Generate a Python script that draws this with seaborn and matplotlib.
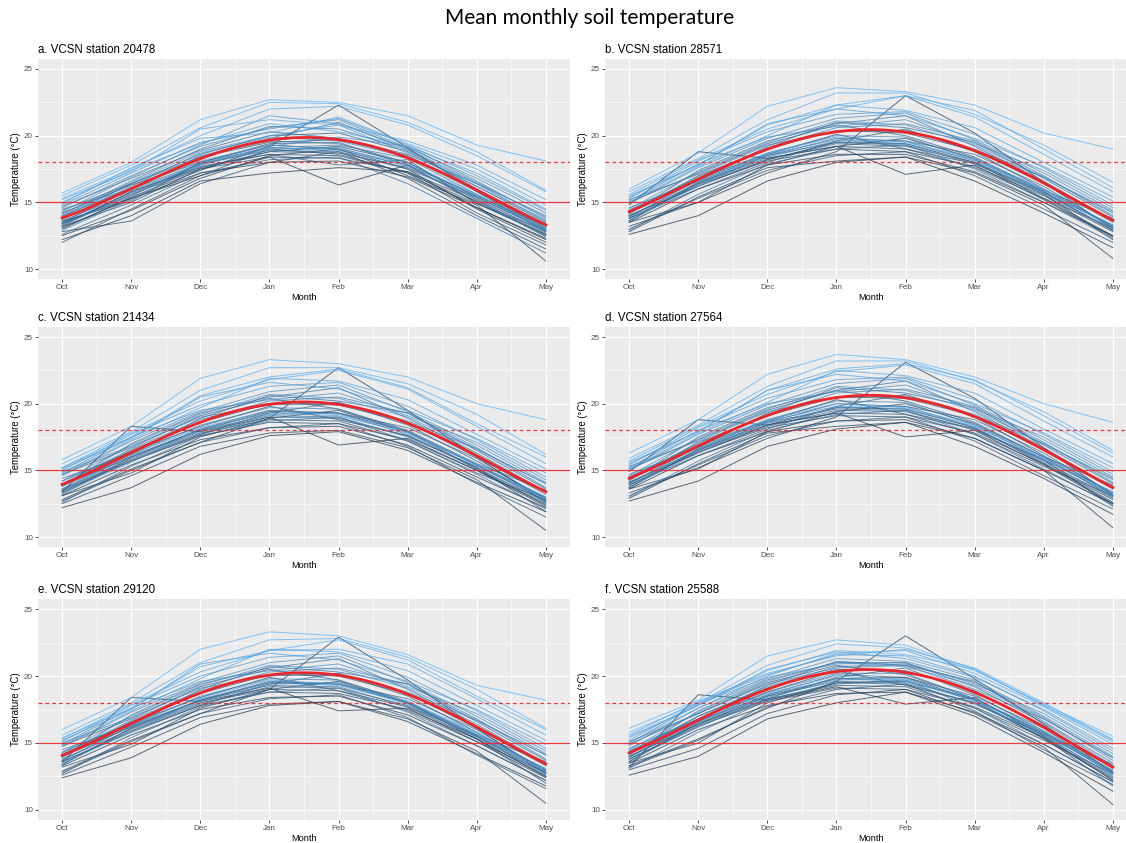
import numpy as np
import pandas as pd
import matplotlib
matplotlib.use("Agg")
import matplotlib.pyplot as plt
from matplotlib.colors import LinearSegmentedColormap
import seaborn as sns

months = ["Oct", "Nov", "Dec", "Jan", "Feb", "Mar", "Apr", "May"]
panel_titles = ["a. VCSN station 20478", "b. VCSN station 28571",
                "c. VCSN station 21434", "d. VCSN station 27564",
                "e. VCSN station 29120", "f. VCSN station 25588"]

# one row per year (oldest first), monthly mean soil temperature Oct..May
station_a = [
    [12.2, 14.0, 16.6, 17.2, 17.6, 17.3, 14.6, 12.2],
    [13.5, 15.3, 17.0, 18.4, 16.3, 17.8, 15.0, 12.5],
    [13.1, 15.3, 17.2, 18.0, 18.1, 16.9, 14.6, 12.3],
    [12.5, 14.4, 16.8, 18.5, 19.0, 17.0, 14.8, 10.6],
    [13.0, 15.4, 17.4, 19.2, 22.3, 19.1, 15.8, 12.8],
    [14.2, 16.3, 18.0, 19.3, 19.0, 17.5, 14.5, 12.0],
    [12.8, 13.6, 16.4, 18.0, 18.8, 16.8, 14.0, 11.5],
    [13.4, 15.6, 17.5, 18.4, 18.3, 17.3, 15.1, 12.6],
    [13.2, 15.0, 17.5, 18.8, 19.2, 18.0, 15.4, 12.9],
    [12.0, 14.5, 17.0, 19.0, 18.6, 17.2, 14.2, 11.8],
    [14.0, 16.0, 18.4, 19.5, 19.7, 18.5, 15.9, 13.0],
    [13.2, 15.8, 17.7, 18.6, 18.5, 17.2, 14.9, 12.9],
    [13.3, 15.8, 17.6, 18.6, 17.8, 18.2, 14.9, 12.6],
    [14.4, 16.4, 18.6, 20.0, 20.2, 18.8, 16.2, 13.5],
    [13.6, 15.1, 18.0, 19.4, 19.5, 17.8, 15.5, 13.2],
    [13.6, 15.7, 17.6, 18.8, 18.7, 17.6, 15.3, 12.7],
    [12.6, 14.8, 17.2, 18.2, 18.4, 16.4, 13.8, 11.2],
    [14.7, 16.8, 18.9, 20.3, 19.8, 18.6, 16.4, 13.6],
    [13.9, 16.4, 18.4, 19.8, 21.0, 19.0, 16.0, 13.4],
    [13.5, 16.0, 17.9, 18.9, 18.8, 17.5, 15.4, 13.0],
    [13.4, 15.5, 17.9, 19.1, 19.3, 18.3, 15.6, 12.9],
    [14.1, 16.6, 19.0, 20.7, 20.5, 18.9, 16.4, 14.0],
    [14.5, 16.0, 18.5, 19.6, 19.4, 18.0, 15.2, 12.4],
    [13.8, 15.9, 17.8, 19.0, 19.1, 17.7, 15.2, 12.8],
    [12.9, 15.2, 17.8, 19.2, 19.9, 19.2, 16.6, 13.8],
    [14.6, 17.0, 19.2, 20.6, 21.2, 19.1, 16.8, 14.2],
    [13.7, 16.2, 18.7, 19.9, 19.6, 18.4, 15.8, 13.1],
    [13.3, 15.5, 18.0, 19.1, 18.9, 17.8, 15.5, 13.1],
    [14.3, 16.9, 19.3, 21.5, 20.9, 19.0, 16.5, 13.9],
    [14.8, 17.2, 19.5, 20.5, 21.3, 19.3, 17.0, 14.4],
    [14.0, 16.5, 18.8, 20.0, 20.8, 18.7, 16.2, 13.7],
    [14.0, 16.1, 18.1, 19.3, 19.0, 17.9, 15.6, 12.9],
    [15.0, 17.4, 19.4, 20.9, 20.3, 19.2, 17.2, 14.5],
    [14.9, 17.6, 19.8, 20.2, 21.4, 19.4, 17.5, 14.8],
    [15.2, 17.3, 20.5, 21.2, 20.8, 19.6, 17.8, 15.2],
    [15.3, 17.5, 20.0, 22.0, 22.2, 20.8, 18.5, 15.8],
    [15.5, 17.8, 20.6, 22.5, 22.4, 21.0, 18.8, 15.9],
    [15.7, 18.0, 21.2, 22.7, 22.5, 21.5, 19.3, 18.1],
]

station_b = [
    [12.6, 14.0, 16.6, 18.0, 18.4, 16.6, 14.2, 11.6],
    [14.8, 18.8, 18.3, 19.2, 17.1, 17.8, 15.2, 12.4],
    [13.5, 16.0, 17.8, 18.6, 18.6, 17.3, 15.0, 12.5],
    [13.2, 15.0, 17.2, 18.8, 23.0, 20.2, 16.5, 13.0],
    [12.8, 15.4, 17.6, 18.1, 18.4, 17.2, 14.8, 10.8],
    [14.0, 16.2, 18.2, 19.5, 19.4, 18.0, 15.3, 12.5],
    [13.5, 15.0, 17.8, 19.2, 19.8, 18.3, 15.8, 12.9],
    [13.8, 16.3, 18.1, 19.0, 18.8, 17.7, 15.5, 12.8],
    [14.4, 16.8, 18.6, 20.1, 19.0, 17.9, 15.6, 12.2],
    [13.0, 15.3, 17.4, 18.5, 18.8, 17.0, 14.5, 12.0],
    [14.2, 17.0, 19.0, 20.4, 20.2, 18.9, 16.4, 13.5],
    [13.6, 16.5, 18.3, 19.2, 19.0, 17.6, 15.3, 13.1],
    [13.8, 16.0, 18.0, 19.6, 20.5, 18.8, 16.0, 13.2],
    [15.0, 17.2, 19.4, 20.8, 20.0, 18.4, 15.9, 13.8],
    [13.6, 16.4, 18.5, 19.8, 19.6, 18.6, 16.2, 13.1],
    [14.0, 16.4, 18.2, 19.4, 19.2, 18.0, 15.7, 12.9],
    [14.6, 16.6, 19.2, 21.0, 20.6, 19.5, 16.8, 13.9],
    [12.9, 15.6, 17.9, 19.0, 19.3, 17.5, 15.0, 12.3],
    [14.1, 17.4, 19.6, 20.9, 21.5, 19.2, 16.6, 13.6],
    [13.9, 16.7, 18.5, 19.5, 19.3, 17.9, 15.8, 13.2],
    [15.2, 17.1, 19.3, 20.3, 20.4, 19.0, 16.9, 14.2],
    [14.3, 16.9, 19.1, 20.6, 20.9, 19.6, 17.0, 14.0],
    [13.9, 16.5, 18.7, 20.0, 19.9, 18.2, 15.7, 13.3],
    [14.2, 16.6, 18.4, 19.6, 19.6, 18.1, 15.6, 13.0],
    [14.9, 17.6, 19.8, 21.3, 21.7, 19.7, 17.2, 14.4],
    [15.1, 17.9, 19.9, 20.7, 21.2, 19.4, 17.4, 14.6],
    [14.5, 17.3, 19.5, 21.1, 20.8, 19.3, 16.9, 14.3],
    [13.7, 16.2, 18.6, 19.7, 19.4, 18.2, 15.9, 13.3],
    [15.3, 18.1, 20.3, 21.6, 21.8, 20.1, 17.6, 14.8],
    [15.4, 17.8, 20.9, 22.0, 21.5, 19.8, 17.7, 15.1],
    [14.4, 16.8, 18.7, 19.9, 19.5, 18.3, 16.0, 13.1],
    [15.0, 17.7, 20.0, 22.3, 21.9, 20.6, 18.0, 15.4],
    [15.6, 18.2, 20.5, 22.0, 23.0, 21.4, 18.6, 15.8],
    [15.5, 17.8, 20.8, 22.3, 23.0, 21.9, 19.0, 16.1],
    [15.8, 18.3, 21.2, 23.2, 23.2, 21.6, 19.3, 16.5],
    [16.0, 18.7, 22.2, 23.6, 23.3, 22.3, 20.2, 19.0],
]

station_c = [
    [12.2, 13.7, 16.2, 17.6, 17.9, 16.5, 14.1, 11.9],
    [13.4, 18.3, 17.9, 19.0, 16.9, 17.4, 15.0, 12.3],
    [13.1, 15.4, 17.3, 18.2, 18.3, 16.9, 14.5, 12.2],
    [12.8, 15.1, 17.1, 18.9, 22.7, 19.5, 16.0, 12.6],
    [12.5, 14.6, 16.8, 17.8, 18.0, 16.7, 14.3, 10.5],
    [13.9, 16.0, 18.0, 19.4, 19.3, 17.9, 15.1, 12.4],
    [13.1, 14.8, 17.5, 18.9, 19.5, 17.9, 15.4, 12.7],
    [13.4, 15.7, 17.6, 18.6, 18.5, 17.3, 15.0, 12.5],
    [14.2, 16.4, 18.3, 19.8, 18.8, 17.6, 15.2, 11.9],
    [12.7, 15.0, 17.1, 18.2, 18.5, 16.8, 14.0, 11.5],
    [13.9, 16.5, 18.6, 20.0, 19.9, 18.6, 16.0, 13.2],
    [13.2, 15.9, 17.8, 18.8, 18.7, 17.2, 14.8, 12.8],
    [13.5, 15.7, 17.7, 19.3, 20.1, 18.4, 15.7, 12.9],
    [14.7, 16.7, 19.1, 20.4, 19.6, 18.0, 15.5, 13.5],
    [13.3, 16.0, 18.1, 19.5, 19.3, 18.2, 15.9, 12.8],
    [13.6, 15.8, 17.7, 19.0, 18.9, 17.6, 15.2, 12.6],
    [14.4, 16.2, 18.9, 20.6, 20.2, 19.3, 16.5, 13.6],
    [12.6, 15.3, 17.6, 18.7, 19.0, 17.2, 14.7, 12.1],
    [13.8, 17.0, 19.3, 20.5, 21.2, 18.9, 16.3, 13.4],
    [13.5, 16.1, 18.0, 19.1, 19.0, 17.5, 15.3, 12.9],
    [14.9, 16.8, 19.0, 19.9, 20.1, 18.7, 16.6, 14.0],
    [14.0, 16.6, 18.8, 20.2, 20.5, 19.3, 16.7, 13.7],
    [13.6, 16.2, 18.4, 19.7, 19.6, 17.9, 15.4, 13.0],
    [13.8, 16.0, 17.9, 19.2, 19.3, 17.7, 15.1, 12.7],
    [14.6, 17.2, 19.4, 20.9, 21.4, 19.4, 16.9, 14.1],
    [14.8, 17.5, 19.5, 20.3, 20.8, 19.1, 17.1, 14.3],
    [14.2, 16.9, 19.2, 20.7, 20.4, 19.0, 16.6, 14.0],
    [13.3, 15.6, 18.1, 19.3, 19.1, 17.8, 15.4, 13.0],
    [15.0, 17.7, 19.9, 21.3, 21.6, 19.8, 17.3, 14.5],
    [15.1, 17.4, 20.5, 21.6, 21.1, 19.5, 17.4, 14.8],
    [14.0, 16.2, 18.2, 19.5, 19.2, 17.9, 15.5, 12.8],
    [14.7, 17.3, 19.7, 21.9, 21.7, 20.3, 17.7, 15.1],
    [15.2, 17.8, 20.2, 21.8, 22.5, 21.1, 18.3, 15.5],
    [15.2, 17.5, 20.6, 22.0, 22.6, 21.2, 18.5, 16.0],
    [15.5, 17.9, 21.0, 22.7, 22.7, 21.5, 19.2, 16.2],
    [15.8, 18.3, 21.9, 23.3, 23.0, 22.0, 20.0, 18.8],
]

station_d = [
    [12.7, 14.2, 16.8, 18.1, 18.6, 16.8, 14.4, 11.7],
    [14.9, 18.8, 18.4, 19.3, 17.5, 18.0, 15.4, 12.5],
    [13.6, 16.1, 17.9, 18.7, 18.8, 17.4, 15.0, 12.5],
    [13.3, 15.2, 17.4, 19.0, 23.1, 20.4, 16.7, 13.1],
    [12.9, 15.5, 17.8, 18.3, 18.6, 17.4, 15.0, 10.7],
    [14.1, 16.3, 18.4, 19.7, 19.6, 18.2, 15.5, 12.6],
    [13.6, 15.1, 17.9, 19.4, 20.0, 18.5, 16.0, 13.0],
    [13.9, 16.4, 18.2, 19.1, 19.0, 17.8, 15.5, 12.8],
    [14.5, 16.9, 18.7, 20.3, 19.2, 18.1, 15.8, 12.3],
    [13.1, 15.4, 17.6, 18.7, 19.0, 17.2, 14.6, 12.1],
    [14.3, 17.1, 19.1, 20.5, 20.4, 19.1, 16.5, 13.6],
    [13.7, 16.6, 18.4, 19.3, 19.2, 17.7, 15.3, 13.1],
    [13.9, 16.1, 18.1, 19.8, 20.7, 19.0, 16.1, 13.3],
    [15.1, 17.3, 19.5, 21.0, 20.2, 18.6, 16.0, 13.9],
    [13.7, 16.5, 18.6, 20.0, 19.8, 18.8, 16.3, 13.2],
    [14.1, 16.5, 18.3, 19.5, 19.4, 18.1, 15.7, 12.9],
    [14.7, 16.7, 19.3, 21.2, 20.8, 19.7, 16.9, 14.0],
    [13.0, 15.7, 18.0, 19.2, 19.5, 17.7, 15.1, 12.4],
    [14.2, 17.5, 19.7, 21.0, 21.7, 19.4, 16.7, 13.7],
    [14.0, 16.8, 18.6, 19.6, 19.5, 18.0, 15.8, 13.2],
    [15.3, 17.2, 19.4, 20.5, 20.6, 19.2, 17.0, 14.3],
    [14.4, 17.0, 19.2, 20.8, 21.1, 19.8, 17.1, 14.1],
    [14.0, 16.6, 18.8, 20.2, 20.1, 18.4, 15.8, 13.4],
    [14.3, 16.7, 18.5, 19.7, 19.8, 18.2, 15.6, 13.0],
    [15.0, 17.7, 19.9, 21.5, 21.9, 19.9, 17.3, 14.5],
    [15.2, 18.0, 20.0, 20.9, 21.4, 19.6, 17.5, 14.7],
    [14.6, 17.4, 19.6, 21.3, 21.0, 19.5, 17.0, 14.4],
    [13.8, 16.3, 18.7, 19.8, 19.6, 18.3, 15.9, 13.3],
    [15.4, 18.2, 20.4, 21.8, 22.0, 20.3, 17.7, 14.9],
    [15.5, 17.9, 21.0, 22.2, 21.7, 20.0, 17.8, 15.2],
    [14.5, 16.9, 18.8, 20.0, 19.7, 18.4, 16.0, 13.1],
    [15.1, 17.8, 20.1, 22.5, 22.1, 20.8, 18.1, 15.5],
    [15.7, 18.3, 20.7, 22.4, 22.9, 21.5, 18.7, 16.0],
    [15.6, 17.9, 21.0, 22.6, 23.0, 21.8, 19.1, 16.3],
    [15.9, 18.4, 21.3, 23.2, 23.2, 21.7, 19.4, 16.5],
    [16.3, 18.8, 22.2, 23.7, 23.3, 22.0, 20.0, 18.6],
]

station_e = [
    [12.4, 13.9, 16.4, 17.8, 18.1, 16.6, 14.2, 11.8],
    [13.6, 18.4, 18.1, 19.1, 17.4, 17.6, 15.1, 12.4],
    [13.3, 15.6, 17.5, 18.4, 18.5, 17.1, 14.8, 12.2],
    [12.9, 15.2, 17.2, 19.0, 22.9, 19.7, 16.1, 12.7],
    [12.6, 14.7, 16.9, 17.9, 18.1, 16.8, 14.4, 10.5],
    [14.0, 16.2, 18.2, 19.5, 19.4, 18.0, 15.3, 12.5],
    [13.2, 14.9, 17.6, 19.0, 19.6, 18.0, 15.5, 12.8],
    [13.6, 15.9, 17.8, 18.8, 18.7, 17.5, 15.3, 12.5],
    [14.3, 16.5, 18.4, 19.9, 18.9, 17.7, 15.3, 12.0],
    [12.8, 15.1, 17.2, 18.3, 18.6, 16.9, 14.1, 11.6],
    [14.0, 16.6, 18.7, 20.1, 20.0, 18.7, 16.1, 13.3],
    [13.4, 16.1, 18.0, 19.0, 18.9, 17.4, 15.1, 12.8],
    [13.6, 15.8, 17.8, 19.4, 20.2, 18.5, 15.8, 13.0],
    [14.8, 16.8, 19.2, 20.5, 19.7, 18.1, 15.6, 13.6],
    [13.4, 16.1, 18.2, 19.6, 19.4, 18.3, 16.0, 12.9],
    [13.8, 16.0, 17.9, 19.2, 19.1, 17.8, 15.5, 12.6],
    [14.5, 16.3, 19.0, 20.7, 20.3, 19.4, 16.6, 13.7],
    [12.7, 15.4, 17.7, 18.8, 19.1, 17.3, 14.8, 12.2],
    [13.9, 17.1, 19.4, 20.6, 21.3, 19.0, 16.4, 13.5],
    [13.7, 16.3, 18.2, 19.3, 19.2, 17.7, 15.6, 12.9],
    [15.0, 16.9, 19.1, 20.0, 20.2, 18.8, 16.7, 14.1],
    [14.1, 16.7, 18.9, 20.3, 20.6, 19.4, 16.8, 13.8],
    [13.7, 16.3, 18.5, 19.8, 19.7, 18.0, 15.5, 13.1],
    [14.0, 16.2, 18.1, 19.4, 19.5, 17.9, 15.4, 12.7],
    [14.7, 17.3, 19.5, 21.0, 21.5, 19.5, 17.0, 14.2],
    [14.9, 17.6, 19.6, 20.4, 20.9, 19.2, 17.2, 14.4],
    [14.3, 17.0, 19.3, 20.8, 20.5, 19.1, 16.7, 14.1],
    [13.5, 15.8, 18.3, 19.5, 19.3, 18.0, 15.7, 13.0],
    [15.1, 17.8, 20.0, 21.4, 21.7, 19.9, 17.4, 14.6],
    [15.2, 17.5, 20.9, 21.7, 21.2, 19.6, 17.5, 14.9],
    [14.2, 16.4, 18.4, 19.7, 19.4, 18.1, 15.8, 12.8],
    [14.8, 17.4, 19.8, 22.0, 21.8, 20.4, 17.8, 15.2],
    [15.3, 17.9, 20.3, 21.9, 22.0, 20.9, 18.3, 15.6],
    [15.4, 17.6, 20.7, 21.9, 22.7, 21.2, 18.5, 16.0],
    [15.6, 18.0, 21.0, 22.7, 22.8, 21.4, 19.0, 16.1],
    [16.0, 18.4, 22.0, 23.3, 23.0, 21.6, 19.3, 18.2],
]

station_f = [
    [12.6, 14.0, 16.8, 18.0, 18.8, 17.0, 14.3, 11.4],
    [13.2, 18.6, 18.2, 19.2, 17.9, 18.4, 15.5, 12.2],
    [13.5, 16.0, 17.8, 18.7, 18.8, 17.3, 14.9, 12.1],
    [13.3, 15.3, 17.6, 19.6, 23.0, 19.8, 16.4, 12.8],
    [13.0, 14.6, 17.2, 18.6, 19.0, 17.2, 14.7, 10.4],
    [14.0, 16.4, 18.5, 19.8, 19.9, 18.2, 15.3, 12.3],
    [13.5, 15.0, 18.0, 19.5, 19.6, 18.3, 15.8, 12.7],
    [13.8, 16.3, 18.1, 19.1, 19.0, 17.7, 15.4, 12.4],
    [14.4, 16.8, 18.8, 20.4, 19.3, 18.0, 15.4, 11.8],
    [13.2, 15.2, 17.7, 19.0, 19.4, 17.4, 14.5, 11.9],
    [14.2, 17.0, 19.1, 20.5, 20.4, 18.9, 16.3, 13.2],
    [13.6, 16.5, 18.3, 19.3, 19.2, 17.6, 15.2, 12.7],
    [13.8, 16.2, 18.3, 19.9, 20.6, 18.6, 15.9, 12.9],
    [14.9, 17.2, 19.5, 20.8, 20.1, 18.3, 15.7, 13.4],
    [13.6, 16.6, 18.6, 20.1, 19.9, 18.5, 16.1, 12.8],
    [14.0, 16.4, 18.2, 19.5, 19.4, 18.0, 15.6, 12.5],
    [14.6, 16.8, 19.3, 21.1, 20.8, 19.6, 16.6, 13.5],
    [13.1, 15.8, 18.2, 19.4, 19.7, 17.6, 14.9, 12.1],
    [14.1, 17.4, 19.7, 21.0, 21.0, 19.2, 16.5, 13.3],
    [13.9, 16.7, 18.5, 19.6, 19.5, 17.9, 15.7, 12.8],
    [15.1, 17.2, 19.4, 20.6, 20.8, 19.0, 16.8, 13.9],
    [14.3, 17.0, 19.2, 20.7, 20.9, 19.5, 16.9, 13.7],
    [14.0, 16.6, 18.8, 20.2, 20.2, 18.3, 15.6, 13.0],
    [14.2, 16.6, 18.4, 19.7, 19.8, 18.1, 15.5, 12.6],
    [14.8, 17.6, 19.8, 21.3, 21.1, 19.7, 17.0, 14.0],
    [15.0, 17.9, 19.9, 20.9, 21.0, 19.4, 17.2, 14.2],
    [14.5, 17.3, 19.6, 21.0, 20.7, 19.3, 16.8, 13.9],
    [13.7, 16.2, 18.6, 19.8, 19.6, 18.2, 15.8, 12.9],
    [15.2, 18.0, 20.1, 21.6, 21.5, 20.0, 17.4, 14.4],
    [15.4, 17.8, 20.5, 21.8, 21.3, 19.9, 17.5, 14.6],
    [14.4, 16.8, 18.7, 20.0, 19.7, 18.3, 15.9, 12.7],
    [15.0, 17.6, 20.0, 21.7, 21.9, 20.2, 17.7, 14.9],
    [15.6, 18.1, 20.2, 21.5, 22.0, 20.6, 18.0, 15.2],
    [15.5, 17.8, 20.4, 21.9, 21.6, 20.5, 17.8, 15.1],
    [15.8, 18.0, 20.8, 22.4, 22.1, 20.4, 17.9, 15.5],
    [16.1, 18.2, 21.5, 22.7, 22.3, 20.5, 17.8, 15.3],
]

stations = [station_a, station_b, station_c, station_d, station_e, station_f]
threshold_solid = 15
threshold_dashed = 18

# ---------------------------------------------------------------- style
W, H = 1126, 843
fig = plt.figure(figsize=(W / 100, H / 100), dpi=100)
fig.patch.set_facecolor("white")

cmap = LinearSegmentedColormap.from_list("gg", ["#132B43", "#56B1F7"])
red = "#E8262B"

col_left = [38, 605]
axw = 532
rows_px = [(59, 279), (327, 547), (599, 820)]

for i, (title, data) in enumerate(zip(panel_titles, stations)):
    r, c = divmod(i, 2)
    top, bot = rows_px[r]
    ax = fig.add_axes([col_left[c] / W, 1 - bot / H, axw / W, (bot - top) / H])
    ax.set_facecolor("#EBEBEB")
    n = len(data)
    recs = []
    for yi, row in enumerate(data):
        for mi, v in enumerate(row):
            recs.append((yi, mi + 1, v))
    df = pd.DataFrame(recs, columns=["year", "month", "temp"])

    ax.set_axisbelow(True)
    sns.lineplot(data=df, x="month", y="temp", hue="year", palette=cmap,
                 hue_norm=(0, n - 1), legend=False, lw=0.7, alpha=0.7,
                 errorbar=None, ax=ax, zorder=2)
    ax.axhline(threshold_solid, color=red, lw=0.9, zorder=3, alpha=0.9)
    ax.axhline(threshold_dashed, color=red, lw=0.9, ls=(0, (3, 2.5)), zorder=3, alpha=0.9)
    sns.regplot(data=df, x="month", y="temp", order=4, scatter=False, ci=None,
                truncate=True, ax=ax,
                line_kws=dict(color=red, lw=2.0, zorder=4))

    ax.set_xlim(1 - 0.35, 8 + 0.35)
    ax.set_ylim(9.25, 25.75)
    ax.set_xticks(range(1, 9))
    ax.set_xticklabels(months)
    ax.set_xticks(np.arange(1.5, 8, 1), minor=True)
    ax.set_yticks([10, 15, 20, 25])
    ax.set_yticks([12.5, 17.5, 22.5], minor=True)
    ax.grid(which="major", color="white", lw=0.85)
    ax.grid(which="minor", color="white", lw=0.4)
    for s in ax.spines.values():
        s.set_visible(False)
    ax.tick_params(which="major", length=2.2, width=0.6, color="#333333",
                   labelsize=5.8, labelcolor="#4D4D4D", pad=1.5)
    ax.tick_params(which="minor", length=0)
    for lab in ax.get_xticklabels() + ax.get_yticklabels():
        lab.set_family("Liberation Sans")
    ax.set_xlabel("Month", fontsize=6.7, family="Liberation Sans", labelpad=1.5)
    ax.set_ylabel("Temperature (°C)", fontsize=6.9, family="Liberation Sans", labelpad=2)
    ax.set_title(title, loc="left", fontsize=8.3, family="Liberation Sans", pad=4)

fig.text(0.524, 0.979, "Mean monthly soil temperature", ha="center", va="center",
         fontsize=15, family="Lato")

fig.savefig("out.png", dpi=100)
